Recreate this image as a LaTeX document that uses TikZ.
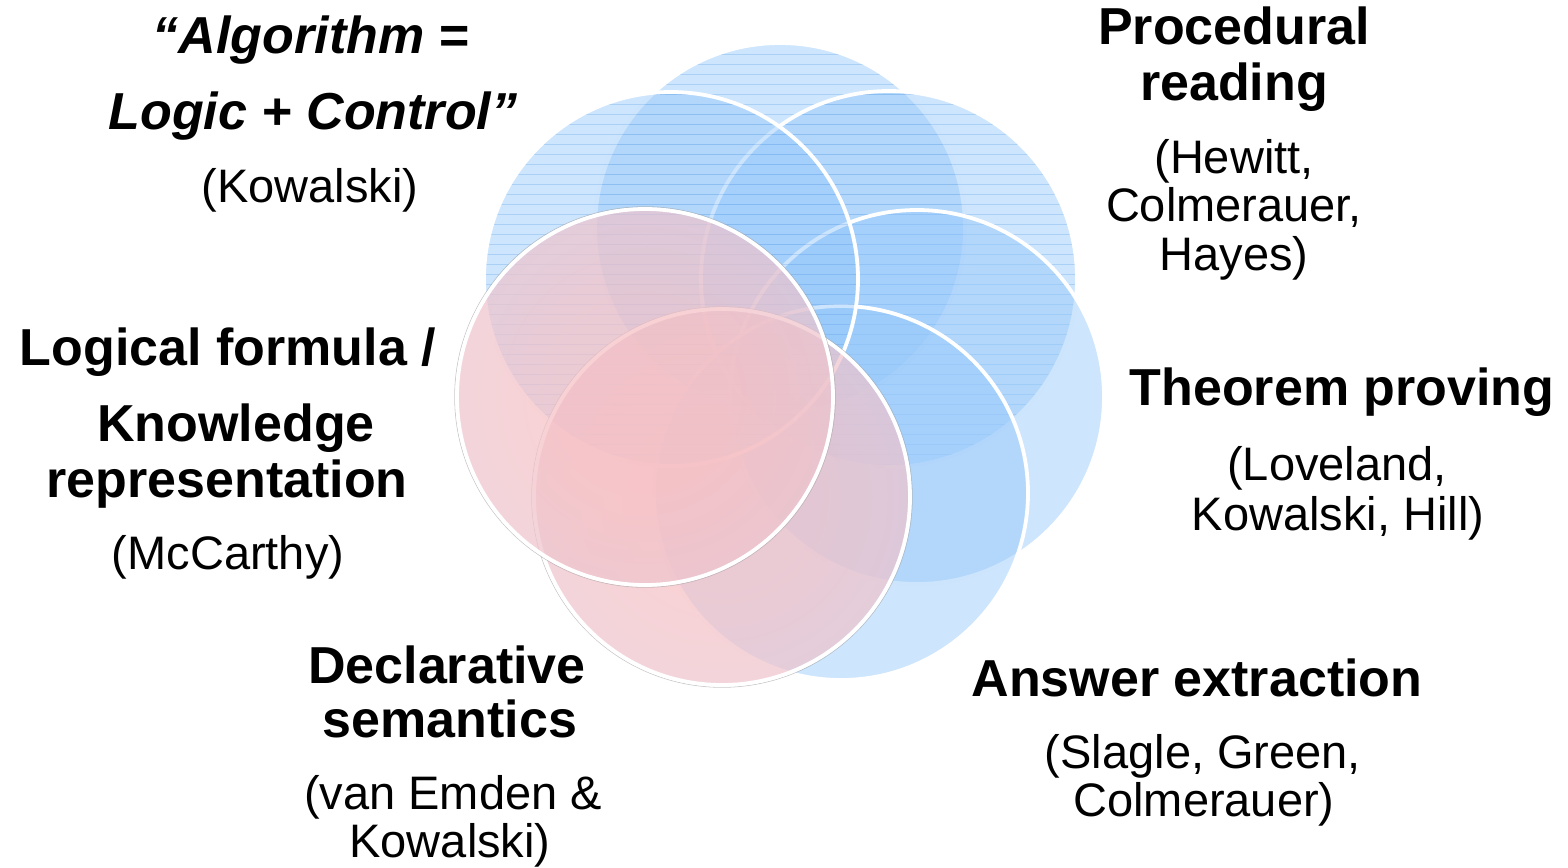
\documentclass[tikz,border=0pt]{standalone}
\usepackage{fontspec}
\setmainfont{Liberation Sans}
\definecolor{venblue}{RGB}{150,200,250}
\definecolor{pinkin}{RGB}{246,192,196}
\definecolor{pinkout}{RGB}{229,201,214}
\definecolor{hatchblue}{RGB}{110,170,235}
\pgfdeclareradialshading{pinkglow}{\pgfpoint{0bp}{0bp}}{%
  color(0bp)=(pinkin); color(12bp)=(pinkin); color(38bp)=(pinkout); color(50bp)=(pinkout)}
\tikzset{
  bluefill/.style={fill=venblue, fill opacity=0.48},
  pinkfill/.style={shading=pinkglow, fill opacity=0.72},
  rim/.style={draw=white, line width=3.8pt},
  shadowrim/.style={draw=black!35, line width=0.8pt, draw opacity=0.6},
  hatchline/.style={draw=hatchblue, line width=0.9pt, draw opacity=0.35},
  head/.style={font=\fontsize{52}{52}\selectfont\bfseries, anchor=base, inner sep=0pt},
  headit/.style={font=\fontsize{52}{52}\selectfont\bfseries\itshape, anchor=base, inner sep=0pt},
  names/.style={font=\fontsize{47}{47}\selectfont, anchor=base, inner sep=0pt},
}
% blue disc with horizontal hatching: centre x, centre y, radius
\newcommand\hatcheddisc[3]{%
  \path[bluefill] (#1,#2) circle (#3);
  \begin{scope}
    \clip (#1,#2) circle (#3);
    \foreach \yy in {44,54,...,474} \draw[hatchline] (470,\yy) -- (1090,\yy);
  \end{scope}
  \path[rim] (#1,#2) circle (#3);
}
\newcommand\plaindisc[3]{%
  \path[bluefill] (#1,#2) circle (#3);
  \path[rim] (#1,#2) circle (#3);
}
\newcommand\pinkdisc[3]{%
  \path[shadowrim] (#1,#2) circle (#3+2.3);
  \shade[pinkfill] (#1,#2) circle (#3);
  \path[rim] (#1,#2) circle (#3);
}
\begin{document}
\begin{tikzpicture}[x=1pt,y=-1pt]
\useasboundingbox (0,0) rectangle (1568,867);

% blue discs, back to front
\hatcheddisc{780}{228}{185}
\hatcheddisc{889}{279}{188}
\plaindisc{917}{397}{187}
\plaindisc{841}{493}{187}
\hatcheddisc{671}{279}{187}

% pink discs
\pinkdisc{722}{497}{188}
\pinkdisc{645}{397}{188}

% upper left label
\node[headit] (algA) at (311,54) {“Algorithm =};
\node[headit] (algB) at (313,129) {Logic + Control”};
\node[names]  (algC) at (310,202) {(Kowalski)};

% upper right label
\node[head]  (procA) at (1234,45) {Procedural};
\node[head]  (procB) at (1234,100) {reading};
\node[names] (procC) at (1234,173) {(Hewitt,};
\node[names] (procD) at (1234,221) {Colmerauer,};
\node[names] (procE) at (1234,270) {Hayes)};

% right label
\node[head]  (thmA) at (1342,405) {Theorem proving};
\node[names] (thmB) at (1337,480) {(Loveland,};
\node[names] (thmC) at (1338,530) {Kowalski, Hill)};

% lower right label
\node[head]  (ansA) at (1197,696) {Answer extraction};
\node[names] (ansB) at (1203,768) {(Slagle, Green,};
\node[names] (ansC) at (1204,816) {Colmerauer)};

% bottom label
\node[head]  (decA) at (447,683) {Declarative};
\node[head]  (decB) at (450,737) {semantics};
\node[names] (decC) at (453,809) {(van Emden \&};
\node[names] (decD) at (450,857) {Kowalski)};

% left label
\node[head]  (logA) at (228,365) {Logical formula /};
\node[head]  (logB) at (236,441) {Knowledge};
\node[head]  (logC) at (227,497) {representation};
\node[names] (logD) at (228,569) {(McCarthy)};
\end{tikzpicture}
\end{document}
